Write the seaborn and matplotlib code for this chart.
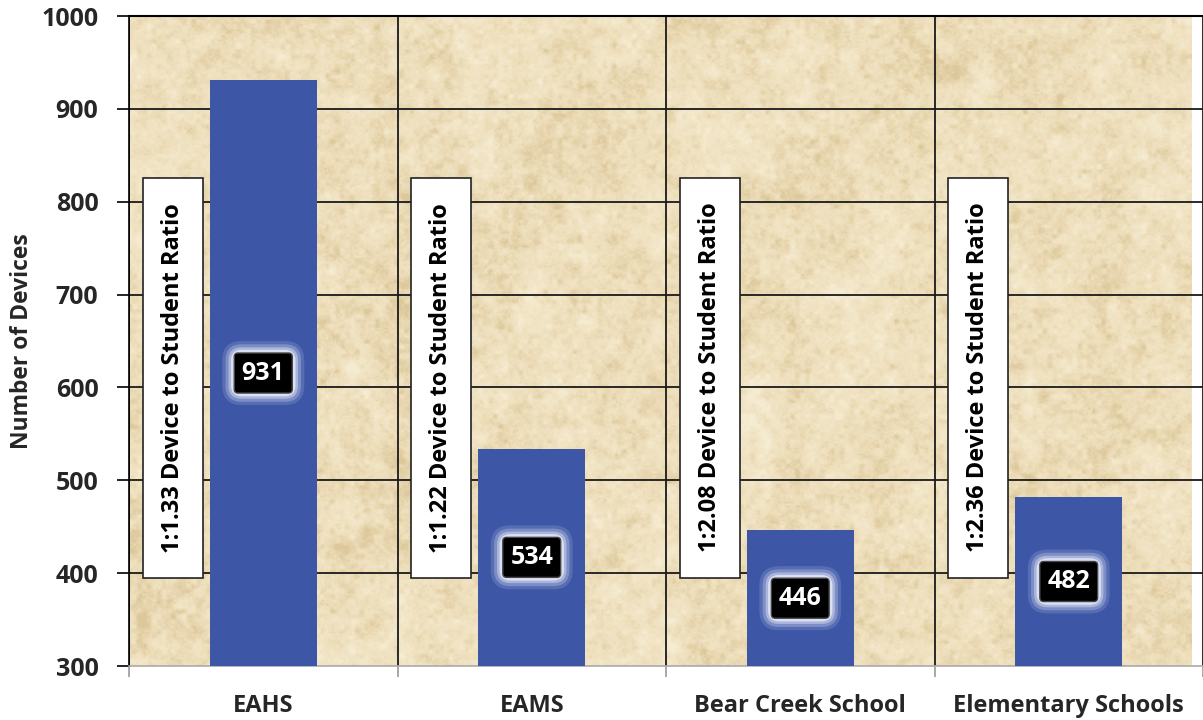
import numpy as np
import matplotlib
matplotlib.use("Agg")
import matplotlib.pyplot as plt
import seaborn as sns

# ---- data ----
categories = ["EAHS", "EAMS", "Bear Creek School", "Elementary Schools"]
devices = [931, 534, 446, 482]
ratio_labels = ["1:1.33 Device to Student Ratio", "1:1.22 Device to Student Ratio",
                "1:2.08 Device to Student Ratio", "1:2.36 Device to Student Ratio"]
y_ticks = [300, 400, 500, 600, 700, 800, 900, 1000]
y_label = "Number of Devices"

sns.set_theme(style="white")
plt.rcParams["font.family"] = ["Open Sans", "DejaVu Sans"]

fig = plt.figure(figsize=(12.03, 7.2), dpi=100)
ax = fig.add_axes([129 / 1203, 54 / 720, 1074 / 1203, 650 / 720])

# parchment-like background texture (decorative only)
rng = np.random.default_rng(11)
H, W = 650, 1074
tex = np.zeros((H, W))
for cell, amp in [(2, 0.35), (5, 0.55), (14, 0.55), (45, 0.4), (150, 0.3)]:
    sh, sw = H // cell + 3, W // cell + 3
    small = rng.normal(size=(sh, sw))
    ys = np.arange(H) / cell
    xs = np.arange(W) / cell
    yi = ys.astype(int); xi = xs.astype(int)
    fy = (ys - yi)[:, None]; fx = (xs - xi)[None, :]
    fy = fy * fy * (3 - 2 * fy); fx = fx * fx * (3 - 2 * fx)
    a = small[yi][:, xi]; b = small[yi][:, xi + 1]
    c = small[yi + 1][:, xi]; d = small[yi + 1][:, xi + 1]
    tex += amp * (a * (1 - fx) * (1 - fy) + b * fx * (1 - fy) + c * (1 - fx) * fy + d * fx * fy)
tex = (tex - tex.mean()) / tex.std()
base = np.array([238, 223, 188]) / 255.0
hi = np.array([246, 236, 210]) / 255.0
lo = np.array([221, 200, 155]) / 255.0
t = np.clip(tex * 0.33, -1, 1)[..., None]
img = np.where(t > 0, base + (hi - base) * t, base + (base - lo) * t)
img = np.clip(img, 0, 1)

xmin, xmax = -0.5, 3.456
ymin, ymax = 300, 1000
ax.imshow(img, extent=[xmin, xmax, ymin, ymax], aspect="auto", zorder=0, interpolation="bilinear")

# grid lines
for yv in y_ticks[1:]:
    ax.axhline(yv, color="#1a1a1a", lw=1.3, zorder=1)
for xv in np.arange(len(categories) + 1) - 0.5:
    ax.axvline(xv, color="#1a1a1a", lw=1.3, zorder=1)

# bars
sns.barplot(x=categories, y=devices, color="#3D56A6", width=0.4, saturation=1,
            ax=ax, zorder=3, edgecolor="none")

# ratio boxes
box_offset, box_width = -0.337, 0.222
box_low, box_high = 395, 826
for i, lab in enumerate(ratio_labels):
    ax.bar(i + box_offset, box_high - box_low, bottom=box_low, width=box_width,
           color="white", edgecolor="#222222", linewidth=1.2, zorder=4)
    ax.text(i + box_offset, (box_low + box_high) / 2, lab, rotation=90,
            ha="center", va="center", fontsize=17, fontweight="bold",
            color="black", zorder=5)

# value labels with glow
for i, v in enumerate(devices):
    ymid = (v + ymin) / 2
    for pad, alpha in [(0.78, 0.15), (0.65, 0.25), (0.53, 0.4), (0.43, 0.7)]:
        ax.text(i, ymid, f"{v}", ha="center", va="center", fontsize=18,
                fontweight="bold", color="none", zorder=5,
                bbox=dict(boxstyle=f"round,pad={pad}", fc="#F0F2FF", ec="none", alpha=alpha))
    ax.text(i, ymid, f"{v}", ha="center", va="center", fontsize=18,
            fontweight="bold", color="white", zorder=6,
            bbox=dict(boxstyle="round,pad=0.3,rounding_size=0.15", fc="black", ec="#444444", lw=1))

ax.set_xlim(xmin, xmax)
ax.set_ylim(ymin, ymax)
ax.set_yticks(y_ticks)
ax.set_yticklabels([str(v) for v in y_ticks], fontsize=18, fontweight="bold")
ax.tick_params(axis="y", left=True, length=9, width=1.2, color="black", pad=13)
ax.set_xticks(range(len(categories)))
ax.set_xticklabels(categories, fontsize=17, fontweight="bold")
ax.tick_params(axis="x", bottom=False, pad=14)
ax.set_xticks(np.arange(len(categories) + 1) - 0.5, minor=True)
ax.tick_params(axis="x", which="minor", bottom=True, length=8, width=1.2, color="#999999")
ax.set_xlabel("")
ax.set_ylabel(y_label, fontsize=16.5, fontweight="bold", labelpad=5)

for s in ["top", "right"]:
    ax.spines[s].set_visible(False)
ax.spines["left"].set_color("black")
ax.spines["left"].set_linewidth(1.2)
ax.spines["bottom"].set_color("#aaaaaa")
ax.spines["bottom"].set_linewidth(1.2)
ax.axhline(1000, color="black", lw=1.5, zorder=2, clip_on=False)

fig.savefig("out.png", dpi=100, facecolor="white")
